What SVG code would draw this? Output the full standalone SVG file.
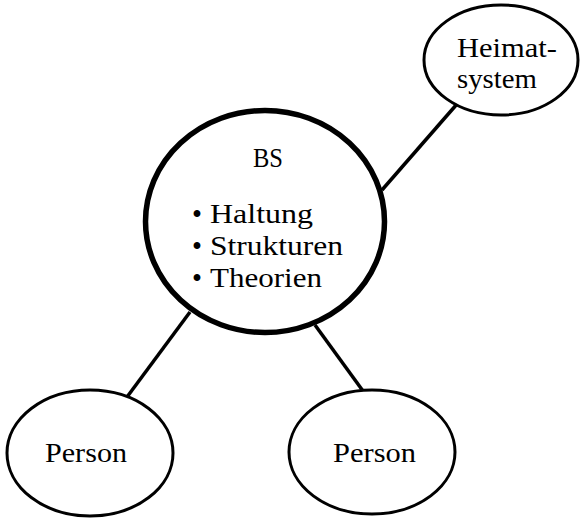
<svg xmlns="http://www.w3.org/2000/svg" width="582" height="519" viewBox="0 0 582 519">
<style>
.node{fill:#fff;stroke:#000}
.t{font-family:"Liberation Serif","Times New Roman",serif;font-size:27px;fill:#000}
.b{font-family:"Liberation Serif","Times New Roman",serif;font-size:30px;fill:#000}
.con line{stroke:#000;stroke-width:3.5;stroke-linecap:butt}
</style>
<rect width="582" height="519" fill="#fff"/>
<g id="connectors" class="con">
<line x1="382" y1="190" x2="457" y2="104"/>
<line x1="190" y1="312" x2="127" y2="397"/>
<line x1="315" y1="325" x2="363" y2="391"/>
</g>
<g id="bs">
<ellipse class="node" cx="265" cy="221.5" rx="119.5" ry="111" stroke-width="5.5"/>
<text class="t" x="253" y="167" textLength="30" lengthAdjust="spacingAndGlyphs">BS</text>
<text class="b" x="192" y="224" textLength="10" lengthAdjust="spacingAndGlyphs">•</text>
<text class="t" x="210" y="223" textLength="103" lengthAdjust="spacingAndGlyphs">Haltung</text>
<text class="b" x="192" y="256" textLength="10" lengthAdjust="spacingAndGlyphs">•</text>
<text class="t" x="210" y="255" textLength="133" lengthAdjust="spacingAndGlyphs">Strukturen</text>
<text class="b" x="192" y="288" textLength="10" lengthAdjust="spacingAndGlyphs">•</text>
<text class="t" x="210" y="287" textLength="112" lengthAdjust="spacingAndGlyphs">Theorien</text>
</g>
<g id="heimatsystem">
<ellipse class="node" cx="501" cy="60" rx="77" ry="55" stroke-width="3"/>
<text class="t" x="457" y="57" textLength="100" lengthAdjust="spacingAndGlyphs">Heimat-</text>
<text class="t" x="457" y="88" textLength="80" lengthAdjust="spacingAndGlyphs">system</text>
</g>
<g id="person1">
<ellipse class="node" cx="90" cy="453" rx="83" ry="63" stroke-width="3"/>
<text class="t" x="45" y="462" textLength="82" lengthAdjust="spacingAndGlyphs">Person</text>
</g>
<g id="person2">
<ellipse class="node" cx="372" cy="452" rx="83" ry="62" stroke-width="3"/>
<text class="t" x="333" y="462" textLength="83" lengthAdjust="spacingAndGlyphs">Person</text>
</g>
</svg>
